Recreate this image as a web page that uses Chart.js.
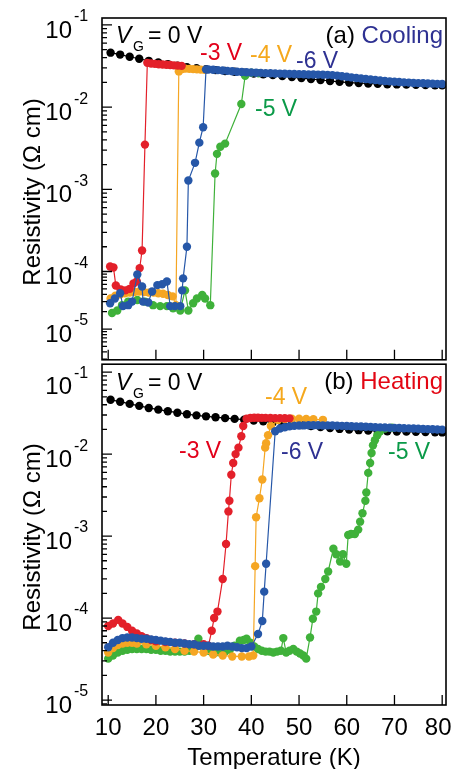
<!DOCTYPE html>
<html>
<head>
<meta charset="utf-8">
<script src="https://cdn.jsdelivr.net/npm/chart.js@4/dist/chart.umd.min.js"></script>
<style>
  body { margin: 0; background: #fff; width: 466px; height: 769px; position: relative; overflow: hidden; }
  canvas { position: absolute; left: 0; }
  #cool { top: 0; }
  #heat { top: 360px; }
</style>
</head>
<body>
<canvas id="cool" width="466" height="364"></canvas>
<canvas id="heat" width="466" height="409"></canvas>
<script>
// ---- data: [temperature (K), resistivity (ohm cm)] ----
const tempTicks = [10, 20, 30, 40, 50, 60, 70, 80];
const decadeExps = [-1, -2, -3, -4, -5];

// V_G = 0 V (same curve in both panels)
const zeroBias = [[10.5,0.0460],[12.5,0.0436],[14.5,0.0410],[16.5,0.0388],[18.5,0.0366],[20.5,0.0349],[22.5,0.0334],[24.5,0.0320],
  [26.5,0.0307],[28.5,0.0297],[30.5,0.0289],[32.5,0.0282],[34.5,0.0275],[36.5,0.0269],[38.5,0.0263],[40.5,0.0257],[42.5,0.0251],
  [44.5,0.0245],[46.5,0.0239],[48.5,0.0232],[50.5,0.0226],[52.5,0.0220],[54.5,0.0214],[56.5,0.0208],[58.5,0.0203],[60.5,0.0199],
  [62.5,0.0196],[64.5,0.0194],[66.5,0.0192],[68.5,0.0190],[70.5,0.0189],[72.5,0.0188],[74.5,0.0187],[76.5,0.0186],[78.5,0.0185],[80.0,0.0184]];

// (a) cooling
const coolM3 = [[25.4,0.0318],[24.6,0.0320],[23.8,0.0322],[23.0,0.0325],[22.2,0.0328],[21.4,0.0330],[20.6,0.0333],[19.8,0.0336],
  [19.0,0.0340],[18.2,0.0346],[17.7,3.5e-3],[17.1,1.8e-4],[16.6,1.1e-4],[16.0,6.7e-5],[15.3,6.2e-5],[14.5,5.0e-5],[13.6,4.7e-5],
  [12.6,4.9e-5],[11.6,5.7e-5],[11.1,1.12e-4],[10.4,1.15e-4]];
const coolM4 = [[30.2,0.0284],[29.4,0.0286],[28.6,0.0288],[27.8,0.0290],[27.0,0.0292],[26.2,0.0294],[25.5,0.0290],[24.8,0.0272],
  [24.2,2.6e-5],[23.5,3.7e-5],[22.5,3.9e-5],[21.5,4.1e-5],[20.5,4.2e-5],[19.5,4.3e-5],[18.5,4.3e-5],[17.5,4.4e-5],[16.5,4.5e-5],
  [15.5,4.4e-5],[14.5,4.3e-5],[13.5,4.2e-5],[12.5,4.0e-5],[11.5,3.8e-5],[10.5,3.4e-5]];
const coolM5 = [[41.5,0.0258],[40.0,0.0262],[38.7,0.0240],[37.9,1.09e-2],[34.5,3.6e-3],[33.5,3.3e-3],[32.8,2.7e-3],[32.4,1.56e-3],
  [31.4,2.6e-5],[30.3,3.4e-5],[29.7,3.9e-5],[28.6,3.4e-5],[27.8,2.8e-5],[26.8,2.1e-5],[26.1,4.7e-5],[25.1,2.1e-5],[23.6,2.3e-5],
  [22.3,2.5e-5],[20.9,2.5e-5],[19.4,2.6e-5],[17.7,3.0e-5],[16.1,3.2e-5],[14.2,3.0e-5],[12.9,2.6e-5],[11.9,2.1e-5],[10.8,1.9e-5]];
const coolM6 = [[80,0.0191],[79,0.0192],[78,0.0193],[77,0.0194],[76,0.0195],[75,0.0196],[74,0.0197],[73,0.0199],[72,0.0200],
  [71,0.0202],[70,0.0204],[69,0.0206],[68,0.0208],[67,0.0211],[66,0.0214],[65,0.0217],[64,0.0220],[63,0.0223],[62,0.0226],
  [61,0.0230],[60,0.0234],[59,0.0238],[58,0.0242],[57,0.0245],[56,0.0247],[55,0.0248],[54,0.0249],[53,0.0250],[52,0.0250],
  [51,0.0251],[50,0.0252],[49,0.0253],[48,0.0254],[47,0.0255],[46,0.0256],[45,0.0257],[44,0.0258],[43,0.0259],[42,0.0261],
  [41,0.0262],[40,0.0264],[39,0.0266],[38,0.0268],[37,0.0270],[36,0.0273],[35,0.0276],[34,0.0279],[33,0.0282],[32,0.0285],
  [31,0.0287],[30.5,0.0288],[29.9,5.7e-3],[29.1,3.7e-3],[28.2,2.1e-3],[26.8,1.28e-3],[26.5,2.0e-4],[25.7,7.6e-5],[25.5,4.7e-5],
  [25.1,2.5e-5],[24.0,2.5e-5],[23.0,2.5e-5],[22.3,6.7e-5],[21.3,6.0e-5],[20.3,5.8e-5],[19.2,4.5e-5],[18.4,2.9e-5],[17.3,3.0e-5],
  [17.1,5.5e-5],[16.1,8.9e-5],[15.0,3.0e-5],[14.2,2.6e-5],[13.1,2.5e-5],[12.5,4.2e-5],[11.4,3.4e-5],[10.4,2.8e-5]];

// (b) heating
const heatM3 = [[10.0,8.0e-5],[11.0,8.6e-5],[12.1,9.5e-5],[13.0,8.6e-5],[14.0,7.8e-5],[15.0,7.0e-5],[16.0,6.5e-5],[17.0,6.0e-5],
  [18.0,5.7e-5],[19.0,5.4e-5],[20.0,5.2e-5],[22.0,5.1e-5],[24.0,5.0e-5],[26.0,4.9e-5],[28.0,4.8e-5],[30.0,4.8e-5],[31.0,4.6e-5],
  [31.7,7.0e-5],[32.2,1.0e-4],[32.9,1.2e-4],[34.0,3.0e-4],[34.7,8.0e-4],[35.2,2.0e-3],[35.4,2.7e-3],[35.8,5.6e-3],[36.2,7.8e-3],
  [36.7,1.0e-2],[37.3,1.2e-2],[37.9,1.65e-2],[38.3,2.2e-2],[39.0,0.0270],[39.8,0.0276],[40.6,0.0278],[41.4,0.0278],[42.2,0.0277],
  [43.0,0.0277],[44.0,0.0276],[45.0,0.0275],[46.0,0.0275],[47.0,0.0274],[48.0,0.0273]];
const heatM4 = [[10.0,3.8e-5],[11.0,4.3e-5],[12.0,4.7e-5],[13.0,4.9e-5],[14.0,5.0e-5],[15.0,5.0e-5],[16.0,4.9e-5],[18.0,4.8e-5],
  [20.0,4.6e-5],[22.0,4.4e-5],[24.0,4.2e-5],[26.0,4.0e-5],[28.0,3.9e-5],[30.0,3.8e-5],[32.0,3.6e-5],[34.0,3.5e-5],[36.0,3.4e-5],
  [38.0,3.4e-5],[39.5,3.4e-5],[40.4,3.5e-5],[40.8,4.3e-4],[41.0,1.7e-3],[41.7,2.9e-3],[42.3,4.9e-3],[42.9,1.2e-2],[43.1,1.36e-2],
  [43.5,1.7e-2],[44.1,2.2e-2],[45.6,0.0260],[47.0,0.0268],[48.5,0.0270],[50.0,0.0270],[51.5,0.0268],[53.0,0.0266],[55.0,0.0262]];
const heatM5 = [[10.0,3.2e-5],[11.0,3.5e-5],[12.0,3.8e-5],[13.0,4.0e-5],[14.0,4.1e-5],[15.0,4.2e-5],[16.0,4.2e-5],[17.0,4.2e-5],
  [18.0,4.2e-5],[19.0,4.1e-5],[20.0,4.1e-5],[21.0,4.0e-5],[22.0,4.0e-5],[23.0,3.9e-5],[24.0,3.9e-5],[25.0,3.9e-5],[26.0,3.9e-5],
  [27.0,4.0e-5],[28.0,4.1e-5],[28.9,5.6e-5],[29.6,4.6e-5],[30.5,4.0e-5],[31.5,3.9e-5],[32.5,3.8e-5],[33.5,3.8e-5],[34.5,3.9e-5],
  [35.5,4.1e-5],[36.5,4.6e-5],[37.6,5.3e-5],[38.4,5.4e-5],[39.0,5.6e-5],[39.8,5.0e-5],[40.6,4.5e-5],[41.4,4.2e-5],[42.2,4.0e-5],
  [43.0,3.9e-5],[43.8,3.9e-5],[44.6,3.8e-5],[45.4,3.9e-5],[46.2,4.0e-5],[46.7,5.7e-5],[47.3,3.8e-5],[48.0,4.0e-5],[48.8,4.2e-5],
  [49.5,3.9e-5],[50.2,3.7e-5],[50.9,3.5e-5],[51.5,3.2e-5],[52.3,5.8e-5],[52.9,9.8e-5],[53.6,1.2e-4],[54.0,2.0e-4],[54.6,2.4e-4],
  [55.5,3.0e-4],[56.1,3.7e-4],[57.2,7.0e-4],[57.8,6.0e-4],[58.6,4.9e-4],[59.2,6.0e-4],[59.9,4.6e-4],[60.3,1.03e-3],[60.9,1.06e-3],
  [61.7,1.06e-3],[62.4,1.2e-3],[62.8,1.5e-3],[63.3,1.9e-3],[63.9,2.7e-3],[64.1,3.4e-3],[64.5,5.9e-3],[64.9,7.8e-3],[65.2,1.03e-2],
  [65.5,1.28e-2],[65.9,1.48e-2],[66.4,1.7e-2],[67.0,1.9e-2],[68.0,2.05e-2],[69.5,2.1e-2]];
const heatM6 = [[10,4.4e-5],[11,5.0e-5],[12,5.4e-5],[13,5.7e-5],[14,5.8e-5],[15,5.8e-5],[16,5.7e-5],[17,5.6e-5],[18,5.6e-5],
  [19,5.5e-5],[20,5.4e-5],[21,5.3e-5],[22,5.2e-5],[23,5.1e-5],[24,5.0e-5],[25,5.0e-5],[26,4.9e-5],[27,4.8e-5],[28,4.8e-5],
  [29,4.6e-5],[30,4.6e-5],[31,4.6e-5],[32,4.5e-5],[33,4.5e-5],[34,4.5e-5],[35,4.6e-5],[36,4.5e-5],[37,4.4e-5],[38,4.3e-5],
  [39,4.3e-5],[40,4.5e-5],[41.4,6.4e-5],[42.3,9.2e-5],[42.7,2.1e-4],[43.1,4.6e-4],[45,0.0190],[46,0.0205],[47,0.0213],[48,0.0218],
  [49,0.0221],[50,0.0223],[51,0.0224],[52,0.0225],[53,0.0225],[54,0.0225],[55,0.0224],[56,0.0224],[57,0.0223],[58,0.0222],
  [59,0.0221],[60,0.0220],[61,0.0219],[62,0.0218],[63,0.0217],[64,0.0216],[65,0.0215],[66,0.0213],[67,0.0212],[68,0.0211],
  [69,0.0210],[70,0.0209],[71,0.0208],[72,0.0207],[73,0.0206],[74,0.0205],[75,0.0204],[76,0.0203],[77,0.0202],[78,0.0201],
  [79,0.0200],[80,0.0199]];

const FONT = '"Liberation Sans", Arial, sans-serif';
const RED = '#e3202a', ORANGE = '#f5a623', GREEN = '#3fb13a', BLUE = '#2657a8', NAVY = '#2e3192';

// panel (a) axis is squeezed below 1e-4 in the original figure
function squeeze(l) { return l >= -4 ? l : -4 + (l + 4) * 0.7; }
class SplitLogScale extends Chart.LogarithmicScale {
  getPixelForValue(value) {
    const lo = squeeze(Math.log10(this.min)), hi = squeeze(Math.log10(this.max));
    return this.getPixelForDecimal((squeeze(Math.log10(value)) - lo) / (hi - lo));
  }
}
SplitLogScale.id = 'splitLog';
SplitLogScale.defaults = Chart.LogarithmicScale.defaults;
Chart.register(SplitLogScale);

function series(pairs, color) {
  return {
    data: pairs.map(([x, y]) => ({ x, y })),
    borderColor: color, backgroundColor: color,
    borderWidth: 1.2, pointRadius: 4.2, pointBorderWidth: 0, tension: 0
  };
}

const panelFrame = {
  id: 'panelFrame',
  afterDraw(chart, args, o) {
    const { ctx, chartArea: a } = chart;
    const x = chart.scales.x, y = chart.scales.y;
    const dy = o.offset;
    ctx.save();
    ctx.strokeStyle = '#000';
    ctx.lineWidth = 1.6;
    ctx.strokeRect(a.left, a.top, a.right - a.left, a.bottom - a.top);
    ctx.beginPath();
    tempTicks.forEach(t => {
      const px = x.getPixelForValue(t);
      ctx.moveTo(px, a.bottom); ctx.lineTo(px, a.bottom - 10);
    });
    for (let e = -6; e <= -1; e++) {
      for (let m = 1; m <= 9; m++) {
        const v = m * Math.pow(10, e);
        if (v < y.min || v > y.max) continue;
        const py = y.getPixelForValue(v);
        ctx.moveTo(a.left, py); ctx.lineTo(a.left + (m === 1 ? 10 : 5), py);
      }
    }
    ctx.lineWidth = 1.3;
    ctx.stroke();

    ctx.fillStyle = '#000';
    ctx.textBaseline = 'middle';
    decadeExps.forEach(e => {
      const py = y.getPixelForValue(Math.pow(10, e)) + (e === -1 ? o.topShift : 0);
      ctx.font = '24px ' + FONT; ctx.textAlign = 'right';
      ctx.fillText('10', 72, py + 6);
      ctx.font = '16px ' + FONT; ctx.textAlign = 'left';
      ctx.fillText(String(e), 74, py - 8);
    });

    ctx.textBaseline = 'alphabetic';
    ctx.save();
    ctx.translate(40, o.titleY - dy);
    ctx.rotate(-Math.PI / 2);
    ctx.font = '24px ' + FONT; ctx.textAlign = 'center';
    ctx.fillText('Resistivity (\u03A9 cm)', 0, 0);
    ctx.restore();

    if (o.xLabels) {
      ctx.font = '24px ' + FONT; ctx.textAlign = 'center';
      tempTicks.forEach(t => ctx.fillText(String(t), x.getPixelForValue(t) - (t === 80 ? 4 : 0), 735 - dy));
      ctx.fillText('Temperature (K)', (a.left + a.right) / 2, 765 - dy);
    }

    // V_G = 0 V
    ctx.textAlign = 'left';
    ctx.font = 'italic 23px ' + FONT;
    ctx.fillText('V', 116, o.vgY - dy);
    ctx.font = '14px ' + FONT;
    ctx.fillText('G', 133, o.vgY + 8 - dy);
    ctx.font = '23px ' + FONT;
    ctx.fillText('= 0 V', 148, o.vgY - dy);

    // panel tag, right aligned
    ctx.font = '24px ' + FONT;
    ctx.textAlign = 'right';
    ctx.fillStyle = o.tagColor;
    ctx.fillText(o.tagWord, 443, o.tagY - dy);
    const w = ctx.measureText(o.tagWord).width;
    ctx.fillStyle = '#000';
    ctx.fillText(o.tag + ' ', 443 - w, o.tagY - dy);

    ctx.textAlign = 'left';
    ctx.font = '23px ' + FONT;
    o.curveLabels.forEach(l => {
      ctx.fillStyle = l.color;
      ctx.fillText(l.text, l.x, l.y - dy);
    });
    ctx.restore();
  }
};

function makeChart(id, sets, yType, yMin, yMax, pad, frame) {
  return new Chart(document.getElementById(id), {
    type: 'line',
    data: { datasets: sets },
    options: {
      responsive: false, animation: false, devicePixelRatio: 1, events: [],
      layout: { padding: pad },
      scales: {
        x: { type: 'linear', min: 8.7, max: 80.8, display: false },
        y: { type: yType, min: yMin, max: yMax, display: false }
      },
      plugins: { legend: { display: false }, tooltip: { enabled: false }, panelFrame: frame }
    },
    plugins: [panelFrame]
  });
}

makeChart('cool',
  [series(coolM6, BLUE), series(coolM3, RED), series(coolM4, ORANGE), series(coolM5, GREEN), series(zeroBias, '#000')],
  'splitLog', 2.92e-6, 0.1215,
  { left: 102, right: 20, top: 18, bottom: 2 },
  { offset: 0, topShift: 0, titleY: 192, xLabels: false, vgY: 43, tag: '(a)', tagWord: 'Cooling', tagColor: NAVY, tagY: 43,
    curveLabels: [
      { text: '-3 V', x: 200, y: 60, color: '#e2001a' },
      { text: '-4 V', x: 250, y: 62, color: '#f5a81c' },
      { text: '-6 V', x: 296, y: 68, color: NAVY },
      { text: '-5 V', x: 255, y: 116, color: '#0a9a48' }
    ] });

makeChart('heat',
  [series(heatM6, BLUE), series(heatM3, RED), series(heatM4, ORANGE), series(heatM5, GREEN), series(zeroBias, '#000')],
  'logarithmic', 8.7e-6, 0.125,
  { left: 102, right: 20, top: 2, bottom: 64 },
  { offset: 360, topShift: 9, titleY: 537, xLabels: true, vgY: 390, tag: '(b)', tagWord: 'Heating', tagColor: '#e30613', tagY: 389,
    curveLabels: [
      { text: '-4 V', x: 265, y: 404, color: '#f5a81c' },
      { text: '-3 V', x: 179, y: 458, color: '#e2001a' },
      { text: '-6 V', x: 281, y: 459, color: NAVY },
      { text: '-5 V', x: 388, y: 459, color: '#0a9a48' }
    ] });
</script>
</body>
</html>
